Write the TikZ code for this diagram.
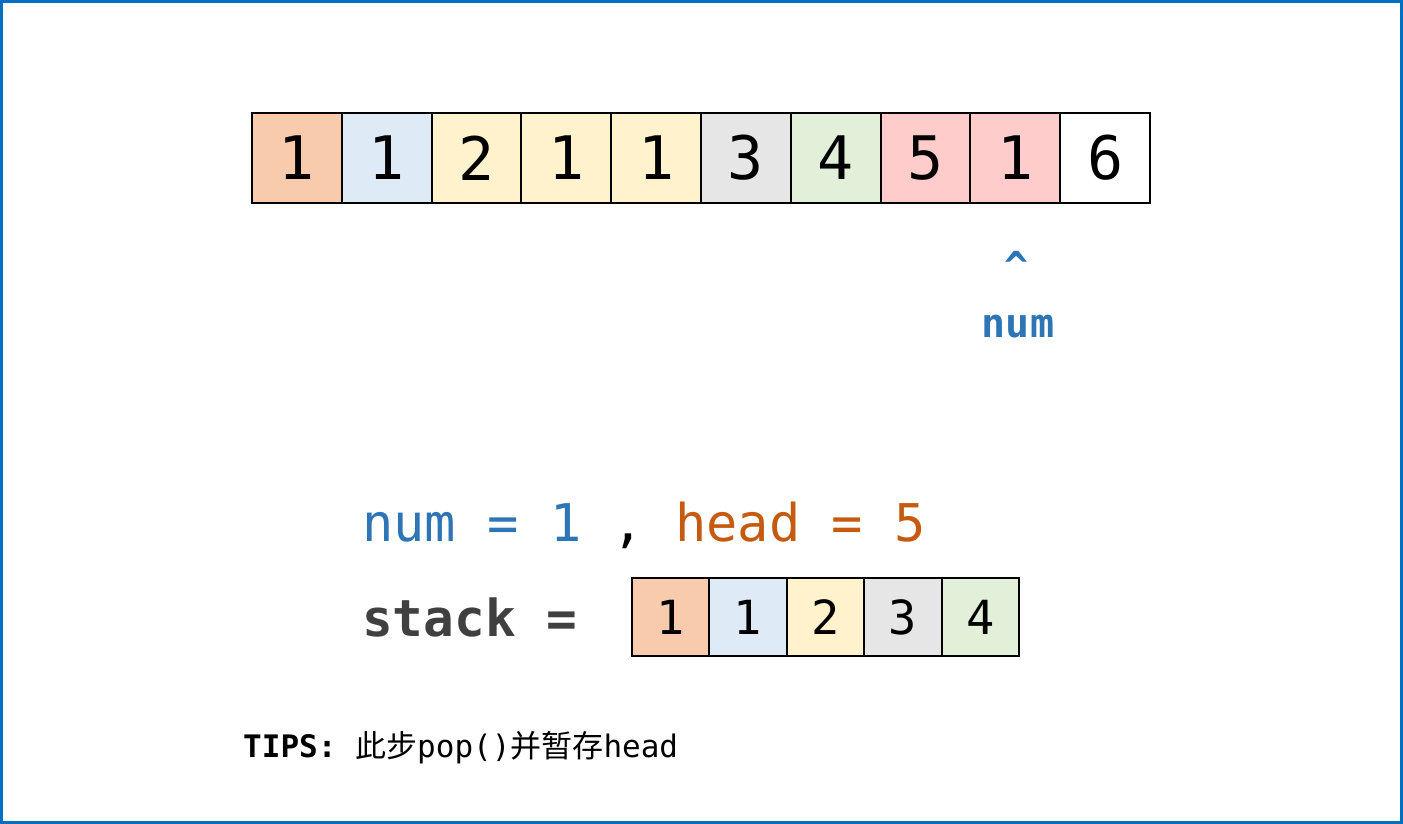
\documentclass[tikz,border=0pt]{standalone}
\usepackage{fontspec}
\setmainfont{DejaVu Sans Mono}
\newfontfamily\mono{DejaVu Sans Mono}
\newfontfamily\cjk{Noto Sans CJK SC}
\definecolor{frameblue}{HTML}{0070C0}
\definecolor{cOrange}{HTML}{F8CBAD}
\definecolor{cBlue}{HTML}{DEEBF7}
\definecolor{cYellow}{HTML}{FFF2CC}
\definecolor{cGray}{HTML}{E7E6E6}
\definecolor{cGreen}{HTML}{E2F0D9}
\definecolor{cRed}{HTML}{FFCCCC}
\definecolor{numblue}{HTML}{2E75B6}
\definecolor{headorange}{HTML}{C55A11}
\definecolor{darktext}{HTML}{404040}
\begin{document}
\begin{tikzpicture}[x=1pt,y=-1pt,
  bigcell/.style={minimum width=89.8pt, minimum height=90pt, inner sep=0pt, font=\mono\fontsize{60}{60}\selectfont},
  smallcell/.style={minimum width=77.4pt, minimum height=78pt, inner sep=0pt, font=\mono\fontsize{47}{47}\selectfont},
  cellborder/.style={draw=black, line width=1.6pt},
  lbl/.style={inner sep=0pt, anchor=base}
]
\useasboundingbox (0,0) rectangle (1403,824);
\draw[frameblue, line width=3pt] (1.5,1.5) rectangle (1401.5,822.5);

% top array
\foreach \i/\v/\c in {0/1/cOrange,1/1/cBlue,2/2/cYellow,3/1/cYellow,4/1/cYellow,5/3/cGray,6/4/cGreen,7/5/cRed,8/1/cRed,9/6/white}{
  \node[bigcell, fill=\c] (a\i) at ({252+44.9+89.8*\i},158) {\v};
}
\foreach \i in {0,...,9}{
  \draw[cellborder] (a\i.north west) rectangle (a\i.south east);
}

% pointer
\node[lbl, text=numblue, font=\mono\bfseries\fontsize{40}{40}\selectfont] (caret) at (1017,280) {\^{}};
\node[lbl, text=numblue, font=\mono\bfseries\fontsize{40}{40}\selectfont] (numlbl) at (1018,337) {num};

% assignment line
\node[inner sep=0pt, anchor=base west, font=\mono\fontsize{52}{52}\selectfont] (assign) at (362,541)
  {\textcolor{numblue}{num = 1} , \textcolor{headorange}{head = 5}};

\node[inner sep=0pt, anchor=base west, text=darktext, font=\mono\bfseries\fontsize{51}{51}\selectfont] (stacklbl) at (362,636) {stack =};

% stack
\foreach \i/\v/\c in {0/1/cOrange,1/1/cBlue,2/2/cYellow,3/3/cGray,4/4/cGreen}{
  \node[smallcell, fill=\c] (s\i) at ({632+38.7+77.4*\i},617) {\v};
}
\foreach \i in {0,...,4}{
  \draw[cellborder] (s\i.north west) rectangle (s\i.south east);
}

% tips
\node[inner sep=0pt, anchor=base west, font=\mono\fontsize{31}{31}\selectfont] (tips) at (243,757)
  {{\bfseries TIPS:} {\cjk 此步}pop(){\cjk 并暂存}head};
\end{tikzpicture}
\end{document}
